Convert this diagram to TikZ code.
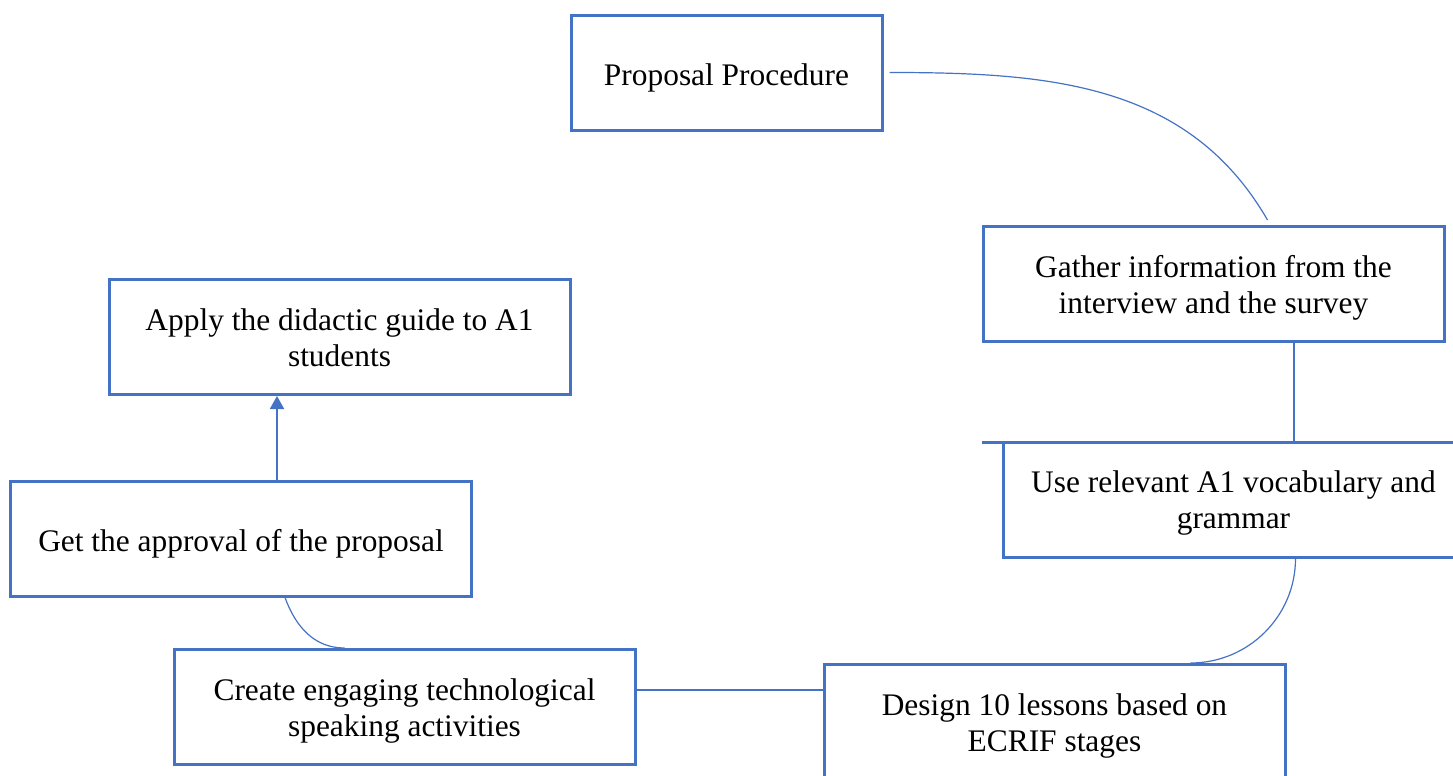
\documentclass[tikz,border=0pt]{standalone}
\usepackage{fontspec}
\setmainfont{Liberation Serif}
\usetikzlibrary{arrows.meta}
\definecolor{stepblue}{RGB}{68,114,196}

\begin{document}
\begin{tikzpicture}[x = 0.5pt, y = -0.5pt, > = {Triangle[length = 6.5pt, width = 7pt]},
	box/.style = {draw = stepblue, line width = 1.5pt, align = center, inner sep = 0pt,
		minimum width = 230.5pt, minimum height = 57.5pt, font = \fontsize{15.7}{18}\selectfont,
		execute at begin node = {\rule{0pt}{16pt}}},
	twoline/.style = {box, text height = 29pt, text depth = -1.5pt},
	link/.style = {draw = stepblue, line width = 0.6pt}]

	% Frame
	
	\useasboundingbox (0, 0) rectangle (1453, 776);
	\clip (0, 0) rectangle (1453, 776);
	
	% Steps
	
	\node [box, minimum width = 155.5pt] (proc) at (726.5, 72.5) {Proposal Procedure};
	\node [twoline] (gather) at (1213.5, 284) {Gather information from the\\interview and the survey};
	\node [twoline] (use) at (1233.5, 499.5) {Use relevant A1 vocabulary and\\grammar};
	\node [twoline] (design) at (1054.5, 722) {Design 10 lessons based on\\ECRIF stages};
	\node [twoline] (create) at (404.5, 707) {Create engaging technological\\speaking activities};
	\node [box] (get) at (241, 538.5) {Get the approval of the proposal};
	\node [twoline] (apply) at (339.5, 337) {Apply the didactic guide to A1\\students};
	
	% Connectors
	
	\draw [link] ([xshift = 3pt] proc.east) to [out = 0, in = 120] ([xshift = 27pt, yshift = 2.5pt] gather.north);
	\draw [link, line width = 1pt] ([xshift = 40pt] gather.south) -- ([xshift = 40pt] gather.south |- use.north);
	\draw [link, line width = 1.5pt] ([yshift = -0.75pt] use.north west) -- ++ (-20, 0);
	\draw [link] ([xshift = 31pt] use.south) to [out = -90, in = 0] ([xshift = 68pt] design.north);
	\draw [link] ([yshift = 8.5pt] create.east) -- ([yshift = 8.5pt] create.east -| design.west);
	\draw [link] ([xshift = 22pt] get.south) to [out = -70, in = 180] ([xshift = -30pt] create.north);
	
	% Arrow up to the last step
	
	\draw [link, line width = 1pt, ->] ([xshift = 18pt] get.north) -- ([xshift = 18pt] get.north |- apply.south);
	
\end{tikzpicture}
\end{document}
